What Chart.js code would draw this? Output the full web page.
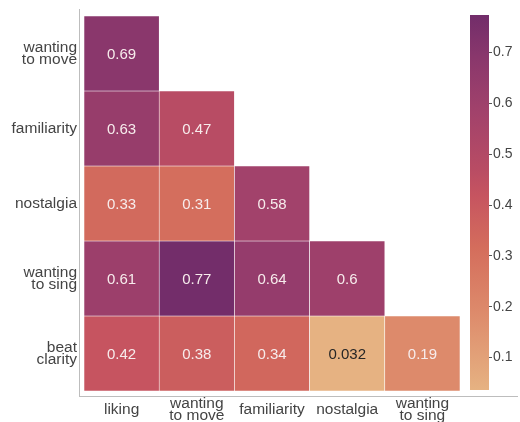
<!DOCTYPE html>
<html>
<head>
<meta charset="utf-8">
<script src="https://cdn.jsdelivr.net/npm/chart.js@4"></script>
<style>
  html, body { margin: 0; padding: 0; background: #fff; }
  #wrap { position: relative; width: 520px; height: 422px; }
  #heat { position: absolute; left: 0; top: 0; }
  #bar { position: absolute; left: 460px; top: 0; }
</style>
</head>
<body>
<div id="wrap">
  <canvas id="heat" width="520" height="422"></canvas>
  <canvas id="bar" width="60" height="422"></canvas>
</div>
<script>
  const rowLabels = [["wanting", "to move"], "familiarity", "nostalgia", ["wanting", "to sing"], ["beat", "clarity"]];
  const colLabels = ["liking", ["wanting", "to move"], "familiarity", "nostalgia", ["wanting", "to sing"]];

  // lower triangle, one list per row
  const row0 = [0.69];
  const row1 = [0.63, 0.47];
  const row2 = [0.33, 0.31, 0.58];
  const row3 = [0.61, 0.77, 0.64, 0.6];
  const row4 = [0.42, 0.38, 0.34, 0.032, 0.19];
  const rows = [row0, row1, row2, row3, row4];

  const vmin = 0.036;
  const vmax = 0.774;
  const barTicks = [0.1, 0.2, 0.3, 0.4, 0.5, 0.6, 0.7];

  // colormap stops (light peach -> dark purple)
  const stops = [
    [0.00, [230, 178, 130]],
    [0.21, [221, 138, 107]],
    [0.38, [212, 109, 92]],
    [0.52, [198, 84, 96]],
    [0.59, [184, 76, 100]],
    [0.74, [162, 66, 107]],
    [0.89, [137, 55, 108]],
    [1.00, [114, 45, 106]]
  ];

  function cmap(v) {
    const t = Math.max(0, Math.min(1, (v - vmin) / (vmax - vmin)));
    for (let i = 1; i < stops.length; i++) {
      if (t <= stops[i][0]) {
        const [t0, c0] = stops[i - 1];
        const [t1, c1] = stops[i];
        const f = (t - t0) / (t1 - t0);
        const c = c0.map((a, k) => Math.round(a + (c1[k] - a) * f));
        return "rgb(" + c.join(",") + ")";
      }
    }
    return "rgb(" + stops[stops.length - 1][1].join(",") + ")";
  }

  const font = "'Liberation Sans', Arial, sans-serif";
  const textGray = "#444";

  const datasets = rows.map((vals, r) => ({
    data: vals.map((v, c) => ({ x: c + 0.5, y: [r, r + 1], v: v })),
    backgroundColor: vals.map(cmap),
    borderColor: "#fff",
    borderWidth: 0.6,
    borderSkipped: false,
    grouped: false,
    barPercentage: 1,
    categoryPercentage: 1
  }));

  const annotate = {
    id: "annotate",
    afterDatasetsDraw(chart) {
      const ctx = chart.ctx;
      ctx.save();
      ctx.font = "15px " + font;
      ctx.textAlign = "center";
      ctx.textBaseline = "middle";
      chart.data.datasets.forEach((ds, i) => {
        chart.getDatasetMeta(i).data.forEach((el, j) => {
          const v = ds.data[j].v;
          const p = el.getCenterPoint();
          ctx.fillStyle = v < 0.15 ? "#262626" : "#f7ecec";
          ctx.fillText(String(v), p.x, p.y + 1);
        });
      });
      ctx.restore();
    }
  };

  new Chart(document.getElementById("heat"), {
    type: "bar",
    data: { datasets: datasets },
    options: {
      responsive: false,
      animation: false,
      devicePixelRatio: 1,
      layout: { padding: { top: 9, right: 3, left: 0, bottom: 0 } },
      plugins: { legend: { display: false }, tooltip: { enabled: false } },
      scales: {
        x: {
          type: "linear",
          offset: false,
          min: -0.0665,
          max: 5.758,
          afterBuildTicks: (s) => { s.ticks = colLabels.map((l, i) => ({ value: i + 0.5 })); },
          afterFit: (s) => { s.height = 26; s.paddingLeft = 0; s.paddingRight = 0; },
          grid: { display: false, drawTicks: false, offset: false },
          border: { display: true, color: "#bdbdbd", width: 1 },
          ticks: {
            padding: 8,
            autoSkip: false,
            maxRotation: 0,
            crossAlign: "center",
            color: textGray,
            font: { family: font, size: 15.5, lineHeight: 0.78 },
            callback: (v) => colLabels[Math.floor(v)]
          }
        },
        y: {
          type: "linear",
          offset: false,
          reverse: true,
          min: -0.093,
          max: 5.067,
          afterBuildTicks: (s) => { s.ticks = rowLabels.map((l, i) => ({ value: i + 0.5 })); },
          afterFit: (s) => { s.width = 79; s.paddingTop = 0; s.paddingBottom = 0; },
          grid: { display: false, drawTicks: false },
          border: { display: true, color: "#bdbdbd", width: 1 },
          ticks: {
            padding: 2,
            autoSkip: false,
            color: textGray,
            font: { family: font, size: 15.5, lineHeight: 0.78 },
            callback: (v) => rowLabels[Math.floor(v)]
          }
        }
      }
    },
    plugins: [annotate]
  });

  function barGradient(context) {
    const chart = context.chart;
    const area = chart.chartArea;
    if (!area) return cmap(vmin);
    const ys = chart.scales.y;
    const g = chart.ctx.createLinearGradient(0, ys.getPixelForValue(vmin), 0, ys.getPixelForValue(vmax));
    stops.forEach(([t, c]) => g.addColorStop(t, "rgb(" + c.join(",") + ")"));
    return g;
  }

  new Chart(document.getElementById("bar"), {
    type: "bar",
    data: {
      labels: [""],
      datasets: [{
        data: [[vmin, vmax]],
        backgroundColor: barGradient,
        borderWidth: 0,
        barPercentage: 1,
        categoryPercentage: 1
      }]
    },
    options: {
      responsive: false,
      animation: false,
      devicePixelRatio: 1,
      layout: { padding: { top: 15, bottom: 32, left: 10, right: 0 } },
      plugins: { legend: { display: false }, tooltip: { enabled: false } },
      scales: {
        x: { display: false },
        y: {
          position: "right",
          min: vmin,
          max: vmax,
          afterBuildTicks: (s) => { s.ticks = barTicks.map((v) => ({ value: v })); },
          afterFit: (s) => { s.width = 31; s.paddingTop = 0; s.paddingBottom = 0; },
          grid: { drawOnChartArea: false, drawTicks: true, tickLength: 3, color: "#555" },
          border: { display: false },
          ticks: {
            padding: 1,
            color: textGray,
            font: { family: font, size: 14 },
            callback: (v) => String(v)
          }
        }
      }
    }
  });
</script>
</body>
</html>
